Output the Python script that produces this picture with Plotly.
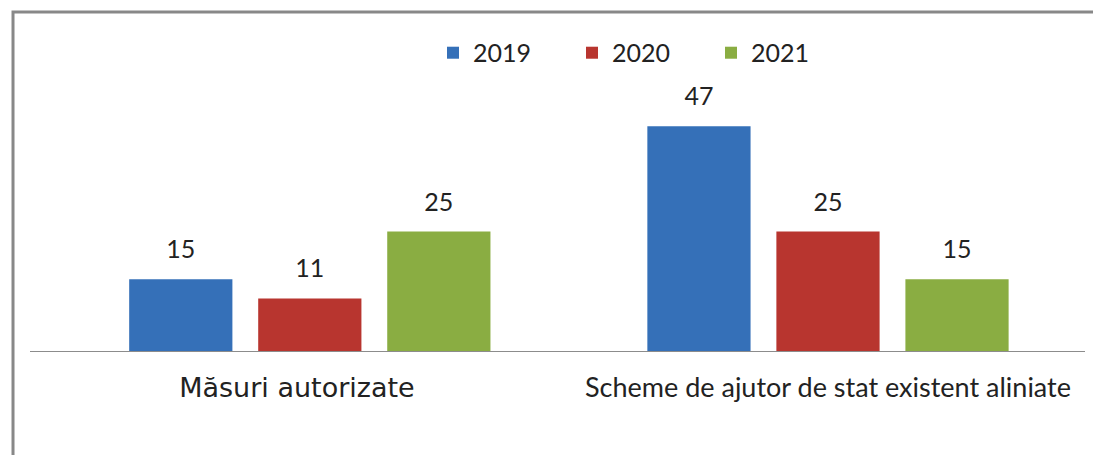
import plotly.graph_objects as go

categories = ["Măsuri autorizate", "Scheme de ajutor de stat existent aliniate"]
tick_labels = [
    "<span style='font-family:DejaVu Sans'>Măsuri autorizate\u00a0\u00a0\u00a0</span>",
    "Scheme de ajutor de stat existent aliniate",
]
years = ["2019", "2020", "2021"]
values = {
    "2019": [15, 47],
    "2020": [11, 25],
    "2021": [25, 15],
}
colors = {"2019": "#3570B8", "2020": "#B8352F", "2021": "#8AAD42"}

fig = go.Figure()
for yr in years:
    fig.add_trace(go.Bar(x=categories, y=values[yr], name=yr,
                         marker_color=colors[yr], marker_line_width=0))

# value labels above the bars (invisible markers give the gap)
for yr in years:
    fig.add_trace(go.Scatter(x=categories, y=values[yr], mode="markers+text",
                             text=[str(v) for v in values[yr]],
                             textposition="top center",
                             textfont=dict(family="Lato", size=25, color="#222"),
                             marker=dict(size=22, color="rgba(0,0,0,0)"),
                             showlegend=False, hoverinfo="skip", cliponaxis=False))

# margins allow for the 8px body margin of the html page
fig.update_layout(
    width=1101, height=455,
    margin=dict(l=22, r=24, t=104, b=112),
    plot_bgcolor="white", paper_bgcolor="white",
    barmode="group", bargap=0.253, bargroupgap=0.2,
    scattermode="group", scattergap=0.253,
    font=dict(family="Lato", size=25, color="#222"),
    legend=dict(orientation="h", x=0.382, xanchor="left", y=1.247, yanchor="middle",
                entrywidth=94, entrywidthmode="pixels",
                font=dict(family="Lato", size=25, color="#222")),
    xaxis=dict(range=[-0.54, 1.496], tickmode="array", tickvals=categories, ticktext=tick_labels,
               showline=True, linecolor="#8c8c8c", linewidth=1, showgrid=False,
               ticks="", ticklabelstandoff=13, tickfont=dict(family="Lato", size=27, color="#222")),
    yaxis=dict(range=[0, 50], visible=False),
    shapes=[dict(type="rect", xref="paper", yref="paper",
                 x0=-0.0161, x1=1.1, y0=-0.6, y1=(343 - 4) / 239,
                 line=dict(color="#888888", width=3), layer="below")],
)

fig.write_html("out.html")
